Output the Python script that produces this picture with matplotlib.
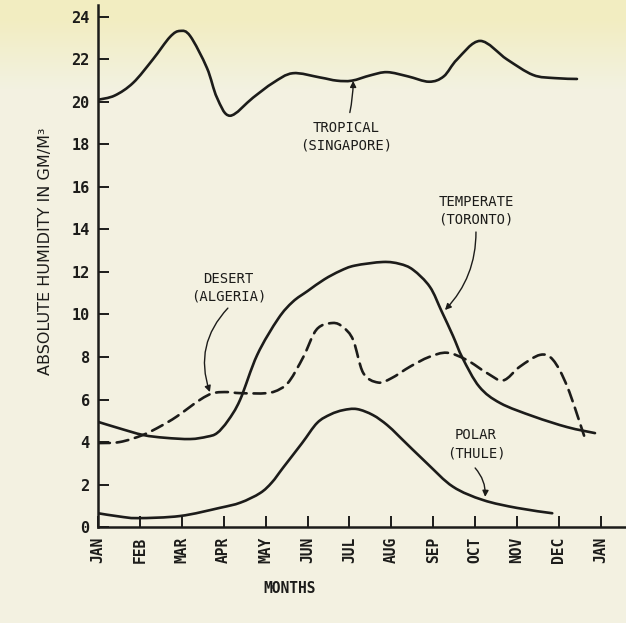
import numpy as np
import matplotlib
matplotlib.use("Agg")
import matplotlib.pyplot as plt
from matplotlib.path import Path
from matplotlib.patches import PathPatch

# Absolute humidity through the year for four climate types (gm/m3)
months = ["JAN", "FEB", "MAR", "APR", "MAY", "JUN", "JUL",
          "AUG", "SEP", "OCT", "NOV", "DEC", "JAN"]
yticks = [0, 2, 4, 6, 8, 10, 12, 14, 16, 18, 20, 22, 24]

# month position (0 = Jan, 12 = next Jan) and humidity
trop_t = [0, 0.4, 0.84, 1.31, 1.72, 1.96, 2.2, 2.6, 2.84, 3.15, 3.7, 4.18,
          4.65, 5.3, 5.7, 6.06, 6.5, 6.9, 7.4, 7.9, 8.25, 8.57, 9.12,
          9.76, 10.38, 10.9, 11.43]
trop_h = [20.1, 20.3, 20.9, 22.0, 23.06, 23.34, 23.1, 21.6, 20.2, 19.35, 20.2, 20.9,
          21.35, 21.15, 21.0, 21.0, 21.25, 21.4, 21.2, 20.95, 21.2, 22.0, 22.87,
          22.0, 21.27, 21.12, 21.08]

temp_t = [0, 0.5, 1.08, 1.6, 2.2, 2.6, 2.84, 3.1, 3.39, 3.8, 4.3, 4.65, 5.0,
          5.4, 5.78, 6.13, 6.8, 7.2, 7.52, 7.92, 8.2, 8.47, 8.7, 9.1, 9.6, 10.4,
          11.2, 11.86]
temp_h = [4.95, 4.65, 4.33, 4.2, 4.14, 4.25, 4.42, 5.0, 5.98, 8.1, 9.8, 10.6, 11.1,
          11.65, 12.05, 12.3, 12.47, 12.38, 12.1, 11.3, 10.15, 9.0, 7.95, 6.6, 5.83, 5.2,
          4.7, 4.42]

des_t = [0, 0.52, 1.07, 1.5, 1.88, 2.43, 2.75, 3.1, 3.39, 4.03, 4.35, 4.58, 4.9,
         5.22, 5.6, 5.85, 6.09, 6.33, 6.68, 7.0, 7.45, 7.9, 8.33, 8.8, 9.28,
         9.67, 10.07, 10.55, 10.86, 11.2, 11.6]
des_h = [3.95, 4.0, 4.33, 4.75, 5.2, 5.98, 6.3, 6.35, 6.3, 6.3, 6.5, 6.9, 8.0,
         9.3, 9.6, 9.4, 8.8, 7.25, 6.8, 7.0, 7.55, 8.0, 8.2, 7.86, 7.25,
         6.9, 7.55, 8.1, 7.86, 6.6, 4.3]

pol_t = [0, 0.5, 0.95, 1.96, 2.9, 3.4, 3.87, 4.15, 4.42, 4.87, 5.23, 5.55,
         5.85, 6.18, 6.56, 6.9, 7.2, 7.85, 8.47, 9.19, 10.0, 10.84]
pol_h = [0.65, 0.5, 0.42, 0.52, 0.9, 1.15, 1.6, 2.1, 2.8, 3.95, 4.9, 5.3,
         5.5, 5.55, 5.27, 4.8, 4.24, 3.0, 1.9, 1.27, 0.9, 0.65]

ink = "#1c1c1a"
mono = "DejaVu Sans Mono"


def smooth_path(xs, ys):
    # bezier path through the points, tangents taken from the neighbours
    p = np.column_stack([xs, ys]).astype(float)
    verts = [p[0]]
    codes = [Path.MOVETO]
    n = len(p)
    for i in range(n - 1):
        p0 = p[max(i - 1, 0)]
        p1 = p[i]
        p2 = p[i + 1]
        p3 = p[min(i + 2, n - 1)]
        verts += [p1 + (p2 - p0) / 6.0, p2 - (p3 - p1) / 6.0, p2]
        codes += [Path.CURVE4] * 3
    return Path(verts, codes)


fig = plt.figure(figsize=(6.26, 6.23), dpi=100)

# paper tone, yellower along the top edge
H, W = 623, 626
rows = np.arange(H)[:, None]
top = np.array([0.95, 0.93, 0.76])
base = np.array([0.953, 0.949, 0.885])
w = np.clip((90 - rows) / 70.0, 0, 1)
bg = (base[None, :] * (1 - w) + top[None, :] * w)[:, None, :] * np.ones((1, W, 1))
fig.figimage(bg, 0, 0, origin="upper", zorder=-10)

ax = fig.add_axes([0.1565, 0.154, 1 - 0.1565, 0.992 - 0.154])
ax.set_facecolor("none")
ax.set_xlim(0, 12.6)
ax.set_ylim(0, 24.56)

lw = 1.9
for xs, ys, ls in [(trop_t, trop_h, "-"), (temp_t, temp_h, "-"),
                   (des_t, des_h, (0, (4.5, 2.6))), (pol_t, pol_h, "-")]:
    ax.add_patch(PathPatch(smooth_path(xs, ys), fill=False, edgecolor=ink,
                           lw=lw, ls=ls, joinstyle="round", capstyle="round"))

for s in ["top", "right"]:
    ax.spines[s].set_visible(False)
for s in ["left", "bottom"]:
    ax.spines[s].set_linewidth(1.8)
    ax.spines[s].set_color(ink)

ax.set_xticks(range(13))
ax.set_xticklabels(months, rotation=90, fontfamily=mono, fontsize=10.5,
                   fontweight="bold", color=ink)
ax.set_yticks(yticks)
ax.set_yticklabels([str(v) for v in yticks], fontfamily=mono, fontsize=11,
                   fontweight="bold", color=ink)
ax.tick_params(axis="both", direction="in", length=8, width=1.4, colors=ink)
ax.tick_params(axis="x", pad=7)
ax.tick_params(axis="y", pad=6)

fig.text(0.072, 0.597, "ABSOLUTE HUMIDITY IN GM/M³", rotation=90, ha="center",
         va="center", fontfamily="DejaVu Sans", fontsize=11.5, color=ink)
fig.text(0.463, 0.055, "MONTHS", ha="center", va="center", fontfamily=mono,
         fontsize=10.5, fontweight="bold", color=ink)

# curve labels with pointer arrows
lab = dict(ha="center", va="center", fontfamily=mono, fontsize=10, color=ink,
           linespacing=1.35)
ax.text(5.92, 18.35, "TROPICAL\n(SINGAPORE)", **lab)
ax.text(9.02, 14.87, "TEMPERATE\n(TORONTO)", **lab)
ax.text(3.12, 11.25, "DESERT\n(ALGERIA)", **lab)
ax.text(9.02, 3.9, "POLAR\n(THULE)", **lab)

arrow = dict(arrowstyle="-|>", color=ink, lw=1.0, mutation_scale=9, shrinkA=0, shrinkB=0)
ax.annotate("", xy=(6.09, 20.99), xytext=(6.01, 19.5),
            arrowprops=dict(arrow, connectionstyle="arc3,rad=0.05"))
ax.annotate("", xy=(8.28, 10.21), xytext=(9.02, 13.88),
            arrowprops=dict(arrow, connectionstyle="arc3,rad=-0.2"))
ax.annotate("", xy=(2.67, 6.35), xytext=(3.1, 10.3),
            arrowprops=dict(arrow, connectionstyle="arc3,rad=0.3"))
ax.annotate("", xy=(9.24, 1.42), xytext=(9.0, 2.78),
            arrowprops=dict(arrow, connectionstyle="arc3,rad=-0.2"))

fig.savefig("out.png", dpi=100)
